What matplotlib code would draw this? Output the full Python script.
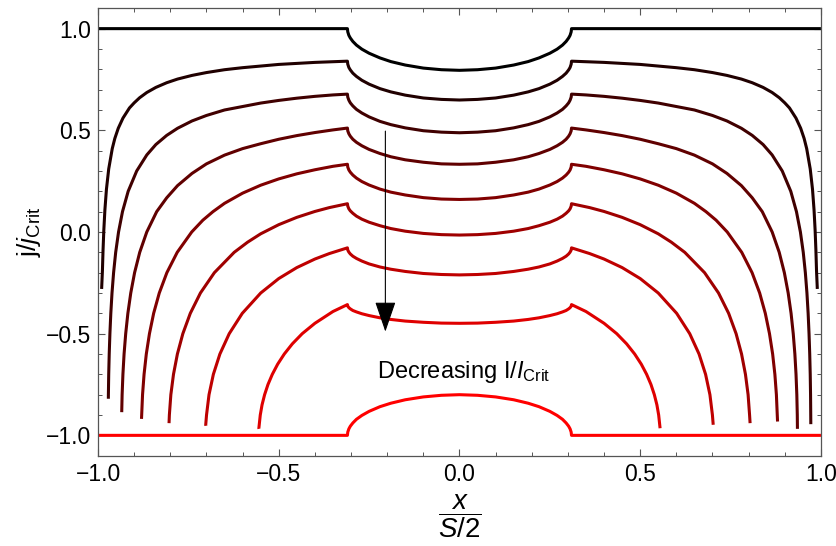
import matplotlib
matplotlib.use("Agg")
import matplotlib.pyplot as plt
import numpy as np

plt.rcParams['font.family'] = ['Liberation Sans', 'DejaVu Sans']
plt.rcParams['mathtext.fontset'] = 'custom'
plt.rcParams['mathtext.rm'] = 'Liberation Sans'
plt.rcParams['mathtext.it'] = 'Liberation Sans:italic'
plt.rcParams['mathtext.bf'] = 'Liberation Sans:bold'

# x grid for the central (gap) region, right half; mirrored for the left half
gap_x = [0.0, 0.05, 0.10, 0.15, 0.19, 0.22, 0.25, 0.27, 0.285, 0.295, 0.302, 0.306, 0.309, 0.31]

# j/jCrit in the gap region, one list per curve (top black -> bottom red)
gap_j = [
    [0.795, 0.798, 0.806, 0.821, 0.838, 0.856, 0.879, 0.899, 0.919, 0.937, 0.954, 0.967, 0.984, 1.000],
    [0.649, 0.652, 0.659, 0.673, 0.689, 0.705, 0.727, 0.746, 0.765, 0.781, 0.797, 0.809, 0.825, 0.840],
    [0.488, 0.491, 0.498, 0.512, 0.528, 0.544, 0.566, 0.585, 0.603, 0.620, 0.635, 0.648, 0.663, 0.678],
    [0.333, 0.335, 0.343, 0.355, 0.370, 0.386, 0.406, 0.424, 0.441, 0.456, 0.471, 0.483, 0.497, 0.511],
    [0.160, 0.162, 0.169, 0.182, 0.196, 0.211, 0.231, 0.248, 0.265, 0.280, 0.294, 0.305, 0.319, 0.333],
    [-0.015, -0.013, -0.007, 0.004, 0.017, 0.031, 0.048, 0.063, 0.078, 0.092, 0.104, 0.114, 0.127, 0.139],
    [-0.211, -0.209, -0.204, -0.194, -0.183, -0.172, -0.157, -0.143, -0.130, -0.119, -0.108, -0.099, -0.089, -0.078],
    [-0.449, -0.448, -0.444, -0.438, -0.430, -0.422, -0.411, -0.402, -0.393, -0.386, -0.378, -0.372, -0.365, -0.357],
    [-0.800, -0.803, -0.811, -0.825, -0.842, -0.859, -0.882, -0.902, -0.921, -0.939, -0.955, -0.968, -0.984, -1.000],
]

# outer region (right side): x values and j values per curve
outer_x = [
    [0.31, 1.0],
    [0.31, 0.40, 0.50, 0.60, 0.65, 0.70, 0.74, 0.78, 0.81, 0.84, 0.865, 0.885, 0.90, 0.913,
     0.931, 0.944, 0.9535, 0.9606, 0.9704, 0.9767, 0.9809, 0.9839, 0.9861, 0.9878, 0.990],
    [0.31, 0.35, 0.40, 0.45, 0.50, 0.55, 0.60, 0.65, 0.70, 0.74, 0.78, 0.81, 0.84, 0.865,
     0.893, 0.9166, 0.9323, 0.9432, 0.9511, 0.9569, 0.9613, 0.9646, 0.9671, 0.9690,
     0.9704, 0.9713, 0.9718, 0.972],
    [0.31, 0.35, 0.40, 0.45, 0.50, 0.55, 0.60, 0.65, 0.70, 0.74, 0.78, 0.81, 0.8377, 0.8651,
     0.8846, 0.8988, 0.9094, 0.9174, 0.9234, 0.9279, 0.9311, 0.9333, 0.9346, 0.935],
    [0.31, 0.35, 0.40, 0.45, 0.50, 0.55, 0.60, 0.65, 0.682, 0.71, 0.7408, 0.7809, 0.8095,
     0.8305, 0.8461, 0.8577, 0.8664, 0.8726, 0.8768, 0.8792, 0.880],
    [0.31, 0.36, 0.40, 0.45, 0.50, 0.55, 0.5861, 0.6233, 0.6781, 0.7167, 0.7447, 0.7653,
     0.7804, 0.7912, 0.7985, 0.8026, 0.804],
    [0.31, 0.36, 0.40, 0.45, 0.50, 0.5499, 0.6009, 0.6370, 0.6628, 0.6809, 0.6929, 0.6998, 0.702],
    [0.31, 0.35, 0.40, 0.4351, 0.4624, 0.4847, 0.5030, 0.5178, 0.5298, 0.5391, 0.5462, 0.5511, 0.555],
    [0.31, 1.0],
]
outer_j = [
    [1.0, 1.0],
    [0.840, 0.834, 0.824, 0.808, 0.798, 0.784, 0.770, 0.752, 0.734, 0.711, 0.686, 0.660, 0.635, 0.61,
     0.56, 0.51, 0.46, 0.41, 0.31, 0.21, 0.11, 0.01, -0.09, -0.19, -0.28],
    [0.678, 0.674, 0.667, 0.658, 0.647, 0.634, 0.617, 0.600, 0.573, 0.546, 0.510, 0.475, 0.430, 0.379,
     0.30, 0.20, 0.10, 0.0, -0.1, -0.2, -0.3, -0.4, -0.5, -0.6, -0.7, -0.8, -0.9, -0.945],
    [0.511, 0.502, 0.489, 0.474, 0.456, 0.434, 0.410, 0.378, 0.335, 0.288, 0.228, 0.168, 0.10, 0.0,
     -0.1, -0.2, -0.3, -0.4, -0.5, -0.6, -0.7, -0.8, -0.9, -0.968],
    [0.333, 0.323, 0.306, 0.286, 0.261, 0.230, 0.191, 0.141, 0.10, 0.058, 0.0, -0.1, -0.2,
     -0.3, -0.4, -0.5, -0.6, -0.7, -0.8, -0.9, -0.932],
    [0.139, 0.120, 0.101, 0.072, 0.036, -0.009, -0.05, -0.1, -0.2, -0.3, -0.4, -0.5,
     -0.6, -0.7, -0.8, -0.9, -0.94],
    [-0.078, -0.106, -0.133, -0.175, -0.229, -0.3, -0.4, -0.5, -0.6, -0.7, -0.8, -0.9, -0.948],
    [-0.357, -0.391, -0.449, -0.5, -0.55, -0.6, -0.65, -0.7, -0.75, -0.8, -0.85, -0.9, -0.965],
    [-1.0, -1.0],
]
# the left-hand tails stop at slightly different heights than the right ones
left_tip = [
    None,
    (-0.990, -0.28),
    (-0.9714, -0.82),
    (-0.9344, -0.886),
    (-0.8797, -0.919),
    (-0.8035, -0.94),
    (-0.7015, -0.953),
    (-0.5546, -0.968),
    None,
]

ticks = [-1.0, -0.5, 0.0, 0.5, 1.0]
tick_labels = ['\u22121.0', '\u22120.5', '0.0', '0.5', '1.0']


def full_curve(i):
    ox = np.array(outer_x[i])
    oj = np.array(outer_j[i])
    gx = np.array(gap_x)
    gj = np.array(gap_j[i])
    if left_tip[i] is None:
        lx, lj = -ox, oj
    else:
        keep = oj > left_tip[i][1]
        lx = np.append(-ox[keep], left_tip[i][0])
        lj = np.append(oj[keep], left_tip[i][1])
    x = np.concatenate([lx[::-1], -gx[::-1], gx[1:], ox])
    j = np.concatenate([lj[::-1], gj[::-1], gj[1:], oj])
    return x, j


fig = plt.figure(figsize=(8.37, 5.46), dpi=100)
ax = fig.add_axes([0.1171, 0.1654, 0.8637, 0.8194])

n = len(gap_j)
for i in range(n):
    x, j = full_curve(i)
    t = i / (n - 1)
    ax.plot(x, j, color=(t, 0, 0), lw=2.2, solid_capstyle='butt',
            solid_joinstyle='round')

ax.annotate('', xy=(-0.205, -0.49), xytext=(-0.205, 0.496),
            arrowprops=dict(arrowstyle='-|>,head_length=1.6,head_width=0.55',
                            color='black', lw=0.8, mutation_scale=12,
                            shrinkA=0, shrinkB=0))
ax.text(0.012, -0.69, r'Decreasing I/$I_{\mathrm{Crit}}$', ha='center',
        va='center', fontsize=17)

ax.set_xlim(-1.0, 1.0)
ax.set_ylim(-1.1, 1.1)
ax.set_xticks(ticks)
ax.set_yticks(ticks)
ax.set_xticklabels(tick_labels)
ax.set_yticklabels(tick_labels)
ax.set_xticks(np.arange(-1.0, 1.01, 0.1), minor=True)
ax.set_yticks(np.arange(-1.1, 1.11, 0.1), minor=True)
ax.tick_params(which='both', direction='in', top=True, right=True,
               color='#555555', labelsize=16.5)
ax.tick_params(which='major', length=5, width=0.8, pad=5)
ax.tick_params(which='minor', length=3, width=0.7)
for s in ax.spines.values():
    s.set_color('#555555')
    s.set_linewidth(0.9)

ax.set_xlabel(r'$\dfrac{x}{S/2}$', fontsize=20)
ax.xaxis.label.set_va('center')
ax.xaxis.set_label_coords(0.5, -0.135)
ax.set_ylabel(r'j/$j_{\mathrm{Crit}}$', fontsize=19)
ax.yaxis.set_label_coords(-0.076, 0.5)

fig.savefig('out.png', dpi=100)
